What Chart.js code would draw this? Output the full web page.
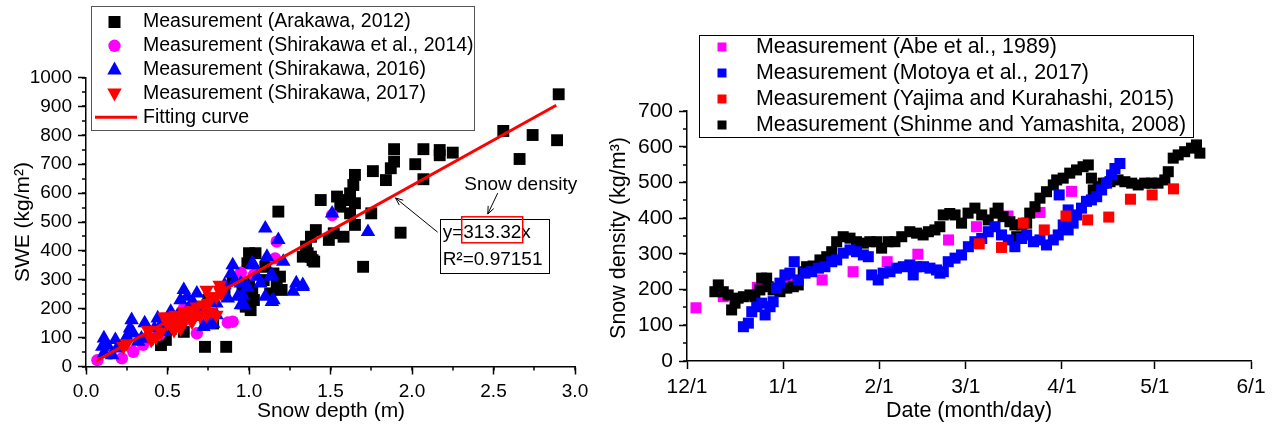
<!DOCTYPE html>
<html>
<head>
<meta charset="utf-8">
<script src="https://cdn.jsdelivr.net/npm/chart.js@4.4.1/dist/chart.umd.min.js"></script>
<style>
  html, body { margin: 0; padding: 0; background: #fff; }
  #swe { position: absolute; left: 0; top: 0; }
  #dens { position: absolute; left: 600px; top: 0; }
</style>
</head>
<body>
<canvas id="swe" width="600" height="428"></canvas>
<canvas id="dens" width="674" height="428"></canvas>
<script>
// ---- left panel: SWE against snow depth ----
const arakawaDepth = [2.90, 2.56, 2.74, 2.89, 2.66, 1.89, 2.07, 2.17, 2.17, 2.25, 2.02, 1.89, 1.87, 1.84, 2.07, 1.76, 1.93, 1.70, 1.75, 1.65, 1.64, 1.62, 1.65, 1.60, 1.44, 1.54, 1.56, 1.62, 1.65, 1.41, 1.38, 1.52, 1.58, 1.49, 1.38, 1.40, 1.18, 1.35, 1.33, 1.39, 1.36, 1.00, 1.04, 0.99, 1.10, 1.15, 1.19, 1.09, 1.17, 1.20, 1.13, 1.02, 1.03, 0.98, 1.01, 0.96, 1.00, 1.00, 0.97, 0.73, 0.86, 0.46, 0.49, 0.62, 0.67, 0.70, 0.78, 0.54, 0.75, 0.85, 0.60, 0.52, 0.90];
const arakawaSwe   = [942, 815, 801, 783, 718, 752, 752, 749, 731, 740, 700, 709, 686, 645, 648, 676, 463, 345, 530, 663, 628, 599, 565, 576, 576, 588, 553, 530, 490, 472, 449, 461, 449, 438, 380, 363, 536, 415, 380, 368, 392, 392, 392, 357, 345, 322, 311, 299, 288, 265, 253, 265, 230, 207, 195, 276, 288, 241, 219, 68, 68, 74, 92, 195, 207, 178, 149, 161, 230, 260, 120, 130, 300];

const shira14Depth = [0.07, 0.22, 0.29, 0.68, 0.87, 1.17, 1.16, 1.51, 1.03, 0.90, 0.95, 0.15, 0.35, 0.45, 0.55, 0.62, 0.73, 0.78, 0.60];
const shira14Swe   = [22, 28, 51, 115, 152, 432, 374, 524, 317, 155, 325, 45, 75, 110, 140, 165, 155, 230, 200];

const shira16Depth = [0.11, 0.10, 0.11, 0.18, 0.19, 0.16, 0.13, 0.28, 0.27, 0.29, 0.25, 0.34, 0.32, 0.36, 0.38, 0.44, 0.42, 0.46, 0.48, 0.52, 0.54, 0.56, 0.58, 0.60, 0.58, 0.62, 0.64, 0.68, 0.66, 0.71, 0.72, 0.76, 0.78, 0.80, 0.80, 0.75, 0.90, 0.89, 0.91, 0.93, 0.97, 0.99, 0.85, 0.87, 0.95, 0.95, 0.96, 1.03, 1.02, 1.05, 1.07, 1.10, 1.10, 1.11, 1.13, 1.14, 1.14, 1.15, 1.18, 1.21, 1.27, 1.29, 1.33, 1.33, 1.51, 1.73];
const shira16Swe   = [98, 69, 46, 92, 63, 40, 75, 161, 132, 115, 103, 97, 86, 150, 110, 167, 132, 144, 120, 190, 149, 175, 144, 265, 230, 242, 213, 253, 219, 201, 137, 230, 149, 178, 219, 144, 351, 322, 293, 242, 213, 276, 282, 236, 288, 213, 247, 351, 357, 311, 288, 478, 242, 380, 311, 317, 224, 230, 438, 363, 259, 288, 282, 276, 530, 466];

const shira17Depth = [0.25, 0.23, 0.38, 0.40, 0.41, 0.43, 0.46, 0.48, 0.50, 0.52, 0.50, 0.54, 0.55, 0.56, 0.56, 0.58, 0.58, 0.60, 0.60, 0.64, 0.65, 0.65, 0.66, 0.68, 0.70, 0.72, 0.74, 0.74, 0.75, 0.76, 0.77, 0.80, 0.80, 0.82, 0.82, 0.83];
const shira17Swe   = [80, 70, 126, 92, 98, 103, 120, 172, 149, 144, 172, 126, 178, 149, 172, 132, 138, 161, 190, 190, 155, 195, 167, 207, 178, 213, 178, 265, 219, 242, 190, 178, 242, 282, 265, 253];

// fitted line y = 313.32x, end points only
const fitDepth = [0.06, 2.885];
const fitSwe   = [18.8, 903.9];

// ---- right panel: snow density against date (days after 12/1) ----
const monthStarts = [0, 31, 62, 90, 121, 151, 182];
const monthLabels = ['12/1', '1/1', '2/1', '3/1', '4/1', '5/1', '6/1'];

const abeDay     = [2.9, 11.7, 22.7, 33.2, 43.6, 53.6, 64.6, 74.5, 84.4, 93.4, 103.6, 113.9, 124.1];
const abeDensity = [149, 180, 206, 225, 227, 250, 278, 299, 339, 376, 406, 416, 475];

const motoyaDay     = [18.2, 19.8, 20.9, 22.5, 24.1, 25.2, 26.8, 27.8, 28.9, 30, 31.6, 33.2, 34.6, 35.9, 38.1, 40.2, 42.4, 44.5, 46.7, 48.3, 50.4, 52.6, 54.7, 56.9, 58.5, 59.6, 61.7, 63.3, 65.5, 67.6, 69.8, 71.9, 73, 74.1, 76.3, 78.4, 80.5, 81.6, 82.7, 84.3, 86.5, 88.6, 90.8, 92.9, 95.1, 97.2, 99.4, 101.5, 103.7, 105.8, 108, 109.6, 111.8, 113.9, 116, 118.2, 119.8, 120.1, 121.4, 123, 123, 124.6, 125.7, 127.3, 128.9, 130.5, 132.2, 133.8, 135.4, 137, 138.1, 139.7];
const motoyaDensity = [96, 106, 138, 152, 162, 129, 152, 166, 204, 218, 241, 246, 278, 227, 246, 250, 260, 264, 278, 283, 302, 311, 306, 297, 292, 241, 227, 246, 250, 260, 264, 269, 241, 264, 264, 260, 255, 246, 250, 278, 288, 297, 320, 334, 343, 362, 376, 353, 339, 320, 343, 353, 334, 339, 325, 339, 353, 465, 381, 423, 367, 386, 409, 428, 447, 451, 460, 479, 498, 521, 539, 553];

const yajimaDay     = [94.3, 101.5, 108.5, 115.3, 122.3, 129.3, 136.1, 143.1, 150.1, 157];
const yajimaDensity = [328, 318, 386, 367, 406, 395, 403, 453, 465, 482];

const shinmeDay     = [9, 10.1, 11.7, 13.3, 14.4, 15.5, 16.5, 18.2, 20.3, 21.9, 23.5, 24.1, 25.7, 26.2, 27.8, 30, 32.2, 34.3, 35.9, 37.5, 38.6, 40.7, 42.9, 45.1, 46.7, 48.3, 50.4, 52.6, 54.7, 56.9, 59, 61.2, 62.8, 64.9, 67.1, 69.3, 71.9, 74.1, 76.2, 77.9, 80, 81.6, 82.7, 84.8, 86.5, 88.6, 90.7, 92.9, 95.1, 97.2, 99.4, 100.4, 102, 104.2, 105.8, 106.4, 108, 109.6, 110.6, 112.3, 113.9, 116, 118.2, 119.3, 121.4, 123.5, 125.7, 127.8, 129.5, 130.5, 131.1, 132.7, 134.3, 136.5, 139.1, 141.3, 143.5, 145.6, 147.7, 149.9, 152, 154.2, 155.3, 156.9, 158.5, 160.6, 162.8, 164.4, 165.5];
const shinmeDensity = [194, 213, 194, 185, 143, 162, 176, 180, 185, 180, 199, 232, 232, 208, 199, 194, 204, 208, 213, 250, 264, 266, 283, 292, 306, 334, 348, 344, 334, 330, 334, 334, 316, 334, 334, 348, 362, 358, 353, 362, 367, 376, 409, 413, 409, 386, 414, 428, 409, 395, 414, 428, 404, 390, 381, 348, 381, 386, 414, 432, 456, 474, 493, 507, 512, 526, 535, 544, 549, 512, 479, 488, 498, 502, 507, 502, 498, 493, 498, 498, 498, 507, 530, 568, 577, 586, 596, 605, 582];

const FAMILY = '"Liberation Sans", Arial, Helvetica, sans-serif';
const pts = (xs, ys) => xs.map((x, i) => ({ x: x, y: ys[i] }));

function marker(ctx, shape, x, y, r, color) {
  ctx.fillStyle = color;
  ctx.beginPath();
  if (shape === 'rect') {
    ctx.rect(x - r, y - r, 2 * r, 2 * r);
  } else if (shape === 'circle') {
    ctx.arc(x, y, r, 0, Math.PI * 2);
  } else if (shape === 'up') {
    ctx.moveTo(x, y - r); ctx.lineTo(x + r * 0.9, y + r * 0.6); ctx.lineTo(x - r * 0.9, y + r * 0.6); ctx.closePath();
  } else if (shape === 'down') {
    ctx.moveTo(x, y + r); ctx.lineTo(x + r * 0.9, y - r * 0.6); ctx.lineTo(x - r * 0.9, y - r * 0.6); ctx.closePath();
  }
  ctx.fill();
}

function arrow(ctx, x1, y1, x2, y2) {
  const a = Math.atan2(y2 - y1, x2 - x1), h = 8;
  ctx.beginPath();
  ctx.moveTo(x1, y1); ctx.lineTo(x2, y2);
  ctx.moveTo(x2 - h * Math.cos(a - 0.4), y2 - h * Math.sin(a - 0.4));
  ctx.lineTo(x2, y2);
  ctx.lineTo(x2 - h * Math.cos(a + 0.4), y2 - h * Math.sin(a + 0.4));
  ctx.stroke();
}

function minorTicks(chart, id, step, len) {
  const s = chart.scales[id], ctx = chart.ctx;
  ctx.save();
  ctx.strokeStyle = '#000';
  ctx.lineWidth = 1.5;
  for (let v = s.min; v <= s.max + 1e-9; v += step) {
    const p = Math.round(s.getPixelForValue(v));
    ctx.beginPath();
    if (s.isHorizontal()) { ctx.moveTo(p, s.top); ctx.lineTo(p, s.top + len); }
    else { ctx.moveTo(s.right, p); ctx.lineTo(s.right - len, p); }
    ctx.stroke();
  }
  ctx.restore();
}

function legendBox(chart, cfg) {
  const ctx = chart.ctx;
  ctx.save();
  ctx.fillStyle = '#fff';
  ctx.fillRect(cfg.x, cfg.y, cfg.w, cfg.h);
  ctx.strokeStyle = cfg.border;
  ctx.lineWidth = 1;
  ctx.strokeRect(cfg.x + 0.5, cfg.y + 0.5, cfg.w, cfg.h);
  ctx.font = cfg.size + 'px ' + FAMILY;
  ctx.textBaseline = 'middle';
  cfg.items.forEach((it, i) => {
    const y = cfg.y + cfg.first + i * cfg.row;
    if (it.shape === 'line') {
      ctx.strokeStyle = it.color; ctx.lineWidth = 3;
      ctx.beginPath(); ctx.moveTo(cfg.lineFrom, y); ctx.lineTo(cfg.lineTo, y); ctx.stroke();
    } else {
      marker(ctx, it.shape, cfg.symX, y, it.r, it.color);
    }
    ctx.fillStyle = '#000';
    ctx.fillText(it.label, cfg.textX, y);
  });
  ctx.restore();
}

function axisTitle(ctx, text, x, y, size, rotate) {
  ctx.save();
  ctx.font = size + 'px ' + FAMILY;
  ctx.fillStyle = '#000';
  ctx.textAlign = 'center';
  ctx.textBaseline = 'middle';
  ctx.translate(x, y);
  if (rotate) ctx.rotate(-Math.PI / 2);
  ctx.fillText(text, 0, 0);
  ctx.restore();
}

function axisOpts(min, max, step, size, fit, extra) {
  const o = {
    type: 'linear', min: min, max: max,
    ticks: { stepSize: step, color: '#000', font: { family: FAMILY, size: size }, padding: 6, maxRotation: 0, autoSkip: false, callback: v => String(v) },
    grid: { drawOnChartArea: false, color: '#000', tickLength: 8, tickWidth: 1.5 },
    border: { color: '#000', width: 1.5 },
    afterFit: fit
  };
  if (extra.callback) o.ticks.callback = extra.callback;
  if (extra.afterBuildTicks) o.afterBuildTicks = extra.afterBuildTicks;
  return o;
}

// ---------- left chart ----------
new Chart(document.getElementById('swe'), {
  type: 'scatter',
  data: {
    datasets: [
      { label: 'Measurement (Arakawa, 2012)', data: pts(arakawaDepth, arakawaSwe), pointStyle: 'rect', pointRadius: 8.4, pointBorderWidth: 0, backgroundColor: '#000000', order: 5, clip: false },
      { label: 'Measurement (Shirakawa et al., 2014)', data: pts(shira14Depth, shira14Swe), pointStyle: 'circle', pointRadius: 6.2, pointBorderWidth: 0, backgroundColor: '#ff00ff', order: 4, clip: false },
      { label: 'Measurement (Shirakawa, 2016)', data: pts(shira16Depth, shira16Swe), pointStyle: 'triangle', pointRadius: 8.4, pointBorderWidth: 0, backgroundColor: '#0000ff', order: 3, clip: false },
      { label: 'Measurement (Shirakawa, 2017)', data: pts(shira17Depth, shira17Swe), pointStyle: 'triangle', pointRotation: 180, pointRadius: 8.4, pointBorderWidth: 0, backgroundColor: '#ff0000', order: 2, clip: false },
      { label: 'Fitting curve', data: pts(fitDepth, fitSwe), showLine: true, borderColor: '#ff0000', borderWidth: 3, pointRadius: 0, order: 1 }
    ]
  },
  options: {
    responsive: false, animation: false, devicePixelRatio: 1,
    layout: { padding: { left: 0, right: 25, top: 77.5, bottom: 0 } },
    plugins: { legend: { display: false }, tooltip: { enabled: false } },
    scales: {
      x: axisOpts(0, 3, 0.5, 19, s => { s.height = 61.5; }, { callback: v => v.toFixed(1) }),
      y: axisOpts(0, 1000, 100, 19, s => { s.width = 86; }, {})
    }
  },
  plugins: [{
    id: 'sweDecor',
    afterDraw(chart) {
      const ctx = chart.ctx, xs = chart.scales.x, ys = chart.scales.y;
      const X = v => xs.getPixelForValue(v), Y = v => ys.getPixelForValue(v);
      minorTicks(chart, 'x', 0.25, 4);
      minorTicks(chart, 'y', 50, 4);
      axisTitle(ctx, 'SWE (kg/m²)', 23, 222, 21, true);
      axisTitle(ctx, 'Snow depth (m)', 331, 411, 21, false);

      // fitted-slope annotation
      ctx.save();
      ctx.strokeStyle = '#000';
      ctx.lineWidth = 1;
      ctx.fillStyle = '#000';
      ctx.font = '19px ' + FAMILY;
      ctx.textBaseline = 'middle';
      ctx.textAlign = 'center';
      ctx.fillText('Snow density', X(2.667), Y(628));
      arrow(ctx, X(2.526), Y(600), X(2.465), Y(528));
      ctx.strokeRect(Math.round(X(2.170)) + 0.5, Math.round(Y(512)) + 0.5, 109, 54);
      ctx.textAlign = 'left';
      ctx.fillText('y=313.32x', X(2.188), Y(462));
      ctx.fillText('R²=0.97151', X(2.188), Y(368));
      arrow(ctx, X(2.157), Y(465), X(1.899), Y(583));
      ctx.strokeStyle = '#ff0000';
      ctx.lineWidth = 1.5;
      ctx.strokeRect(X(2.305), Y(518), 61, 26);
      ctx.restore();

      const ds = chart.data.datasets;
      legendBox(chart, {
        x: 91, y: 6, w: 383, h: 124, border: '#555', size: 19.5,
        first: 16, row: 23.8, symX: 114.5, textX: 143, lineFrom: 95, lineTo: 137,
        items: [
          { label: ds[0].label, shape: 'rect', r: 6, color: '#000' },
          { label: ds[1].label, shape: 'circle', r: 6.2, color: '#ff00ff' },
          { label: ds[2].label, shape: 'up', r: 8, color: '#0000ff' },
          { label: ds[3].label, shape: 'down', r: 8, color: '#ff0000' },
          { label: ds[4].label, shape: 'line', color: '#ff0000' }
        ]
      });
    }
  }]
});

// ---------- right chart ----------
new Chart(document.getElementById('dens'), {
  type: 'scatter',
  data: {
    datasets: [
      { label: 'Measurement (Abe et al., 1989)', data: pts(abeDay, abeDensity), pointStyle: 'rect', pointRadius: 7.8, pointBorderWidth: 0, backgroundColor: '#ff00ff', order: 4, clip: false },
      { label: 'Measurement (Motoya et al., 2017)', data: pts(motoyaDay, motoyaDensity), pointStyle: 'rect', pointRadius: 7.8, pointBorderWidth: 0, backgroundColor: '#0000ff', order: 2, clip: false },
      { label: 'Measurement (Yajima and Kurahashi, 2015)', data: pts(yajimaDay, yajimaDensity), pointStyle: 'rect', pointRadius: 7.8, pointBorderWidth: 0, backgroundColor: '#ff0000', order: 1, clip: false },
      { label: 'Measurement (Shinme and Yamashita, 2008)', data: pts(shinmeDay, shinmeDensity), pointStyle: 'rect', pointRadius: 7.8, pointBorderWidth: 0, backgroundColor: '#000000', order: 3, clip: false }
    ]
  },
  options: {
    responsive: false, animation: false, devicePixelRatio: 1,
    layout: { padding: { left: 0, right: 23, top: 111, bottom: 0 } },
    plugins: { legend: { display: false }, tooltip: { enabled: false } },
    scales: {
      x: axisOpts(0, 182, 1, 21, s => { s.height = 67; }, {
        afterBuildTicks: s => { s.ticks = monthStarts.map(v => ({ value: v })); },
        callback: v => monthLabels[monthStarts.indexOf(v)]
      }),
      y: axisOpts(0, 700, 100, 21, s => { s.width = 87; }, {})
    }
  },
  plugins: [{
    id: 'densDecor',
    afterDraw(chart) {
      const ctx = chart.ctx;
      minorTicks(chart, 'y', 50, 4);
      axisTitle(ctx, 'Snow density (kg/m³)', 19, 238, 21.5, true);
      axisTitle(ctx, 'Date (month/day)', 369, 411, 21.5, false);
      const ds = chart.data.datasets;
      legendBox(chart, {
        x: 99, y: 35, w: 494, h: 102, border: '#000', size: 21.4,
        first: 12, row: 26, symX: 122, textX: 156,
        items: ds.map(d => ({ label: d.label, shape: 'rect', r: 4.5, color: d.backgroundColor }))
      });
    }
  }]
});
</script>
</body>
</html>
